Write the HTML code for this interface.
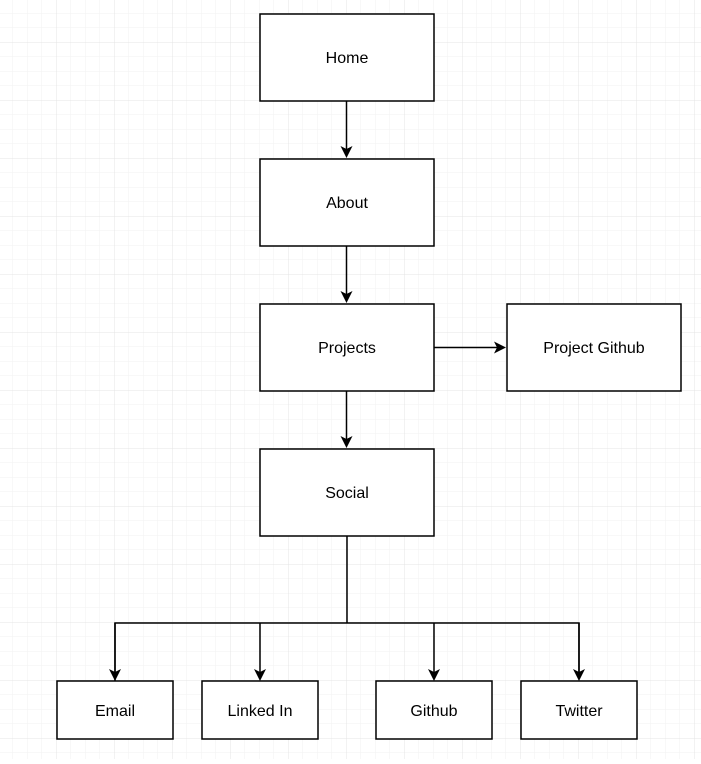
<!DOCTYPE html>
<html><head><style>
html,body{margin:0;padding:0;background:#fff;}
body{width:701px;height:759px;overflow:hidden;}
</style></head><body>
<svg width="701" height="759" xmlns="http://www.w3.org/2000/svg" font-family="Liberation Sans, sans-serif" font-size="16">
<defs>
<pattern id="minor" x="12.5" y="-1.5" width="14.5" height="14.5" patternUnits="userSpaceOnUse">
<path d="M0 0H14.5M0 0V14.5" stroke="#f2f2f2" stroke-width="1" fill="none"/>
</pattern>
<pattern id="major" x="-2" y="42" width="58" height="58" patternUnits="userSpaceOnUse">
<path d="M0 0H58M0 0V58" stroke="#e4e4e4" stroke-width="1" fill="none"/>
</pattern>
<marker id="a" markerWidth="12" markerHeight="12" refX="10" refY="6" orient="auto" markerUnits="userSpaceOnUse">
<path d="M0 0L12 6L0 12L3 6Z" fill="#000"/>
</marker>
</defs>
<rect width="701" height="759" fill="url(#minor)"/>
<rect width="701" height="759" fill="url(#major)"/>
<g stroke="#000" stroke-width="1.5" fill="none">
<path d="M346.5 101V156" marker-end="url(#a)"/>
<path d="M346.5 246V301" marker-end="url(#a)"/>
<path d="M346.5 391V446" marker-end="url(#a)"/>
<path d="M434 347.5H504" marker-end="url(#a)"/>
<path d="M347 536V623"/>
<path d="M115 681V623H579V679"/>
<path d="M115 623V679" marker-end="url(#a)"/>
<path d="M260 623V679" marker-end="url(#a)"/>
<path d="M434 623V679" marker-end="url(#a)"/>
<path d="M579 623V679" marker-end="url(#a)"/>
</g>
<g stroke="#000" stroke-width="1.5" fill="#fff">
<rect x="260" y="14" width="174" height="87"/>
<rect x="260" y="159" width="174" height="87"/>
<rect x="260" y="304" width="174" height="87"/>
<rect x="507" y="304" width="174" height="87"/>
<rect x="260" y="449" width="174" height="87"/>
<rect x="57" y="681" width="116" height="58"/>
<rect x="202" y="681" width="116" height="58"/>
<rect x="376" y="681" width="116" height="58"/>
<rect x="521" y="681" width="116" height="58"/>
</g>
<g fill="#000" text-anchor="middle" font-size="16">
<text x="347" y="63">Home</text>
<text x="347" y="208">About</text>
<text x="347" y="353">Projects</text>
<text x="594" y="353">Project Github</text>
<text x="347" y="498">Social</text>
<text x="115" y="716">Email</text>
<text x="260" y="716">Linked In</text>
<text x="434" y="716">Github</text>
<text x="579" y="716">Twitter</text>
</g>
</svg>
</body></html>
